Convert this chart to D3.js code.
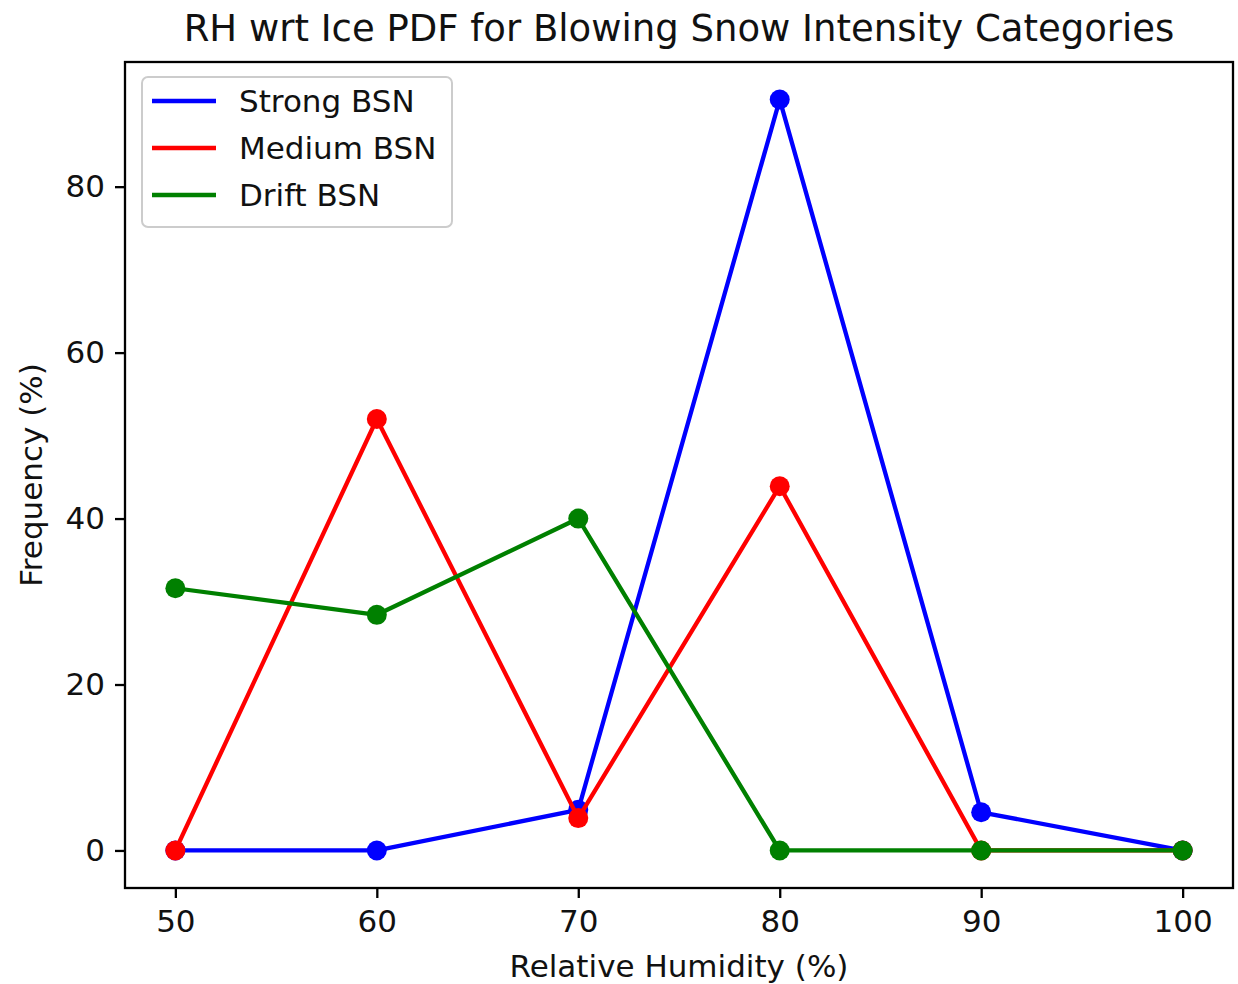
<!DOCTYPE html>
<html><head><meta charset="utf-8">
<script src="https://cdn.jsdelivr.net/npm/d3@7"></script>
<style>body{margin:0;background:#fff}svg{display:block}text{font-family:"DejaVu Sans",sans-serif}</style>
</head><body><svg id="c" width="1238" height="984"></svg>
<script>
const rh = [50, 60, 70, 80, 90, 100];
const strong = [0, 0, 4.9, 90.5, 4.6, 0];
const medium = [0, 52, 3.9, 43.9, 0, 0];
const drift = [31.6, 28.4, 40, 0, 0, 0];
const xTicks = [50, 60, 70, 80, 90, 100];
const yTicks = [0, 20, 40, 60, 80];
const seriesNames = ["Strong BSN", "Medium BSN", "Drift BSN"];
const seriesColors = ["blue", "red", "green"];

const svg = d3.select("#c");
const L = 125, R = 1233, T = 62, B = 888;
const x = d3.scaleLinear().domain([47.5, 102.5]).range([L, R]);
const y = d3.scaleLinear().domain([-4.525, 95.025]).range([B, T]);

svg.append("rect").attr("x",0).attr("y",0).attr("width",1238).attr("height",984).attr("fill","#fff");

const series = [strong, medium, drift];
const line = d3.line().x((d,i)=>x(rh[i])).y(d=>y(d));
series.forEach((s, k) => {
  const g = svg.append("g");
  g.append("path").datum(s).attr("d", line).attr("fill","none")
    .attr("stroke", seriesColors[k]).attr("stroke-width", 4.3).attr("stroke-linejoin","round").attr("stroke-linecap","square");
  g.selectAll("circle").data(s).join("circle")
    .attr("cx",(d,i)=>x(rh[i])).attr("cy",d=>y(d)).attr("r",10).attr("fill",seriesColors[k]);
});

// axes
const xa = svg.append("g").attr("transform",`translate(0,${B})`)
  .call(d3.axisBottom(x).tickValues(xTicks).tickSize(10).tickPadding(12).tickFormat(d3.format("d")));
const ya = svg.append("g").attr("transform",`translate(${L},0)`)
  .call(d3.axisLeft(y).tickValues(yTicks).tickSize(10).tickPadding(10).tickFormat(d3.format("d")));
[xa, ya].forEach(a => {
  a.select(".domain").remove();
  a.selectAll("line").attr("stroke","#000").attr("stroke-width",2.3);
  a.selectAll("text").attr("font-size",31).attr("fill","#111").attr("font-family","DejaVu Sans");
});
svg.append("rect").attr("x",L).attr("y",T).attr("width",R-L).attr("height",B-T)
  .attr("fill","none").attr("stroke","#000").attr("stroke-width",2.3);

// labels
svg.append("text").attr("x",(L+R)/2).attr("y",41).attr("text-anchor","middle")
  .attr("font-size",37).attr("fill","#111").text("RH wrt Ice PDF for Blowing Snow Intensity Categories");
svg.append("text").attr("x",(L+R)/2).attr("y",977).attr("text-anchor","middle")
  .attr("font-size",31).attr("fill","#111").text("Relative Humidity (%)");
svg.append("text").attr("transform",`translate(42,${(T+B)/2}) rotate(-90)`).attr("text-anchor","middle")
  .attr("font-size",31).attr("fill","#111").text("Frequency (%)");

// legend
const lg = svg.append("g");
lg.append("rect").attr("x",142).attr("y",77).attr("width",310).attr("height",150).attr("rx",6)
  .attr("fill","#fff").attr("fill-opacity",0.8).attr("stroke","#ccc").attr("stroke-width",2);
seriesNames.forEach((n,k)=>{
  const yy = 101 + k*47;
  lg.append("line").attr("x1",152).attr("x2",216).attr("y1",yy).attr("y2",yy)
    .attr("stroke",seriesColors[k]).attr("stroke-width",4.3);
  lg.append("text").attr("x",239).attr("y",yy+11).attr("font-size",31).attr("fill","#111").text(n);
});
</script></body></html>
